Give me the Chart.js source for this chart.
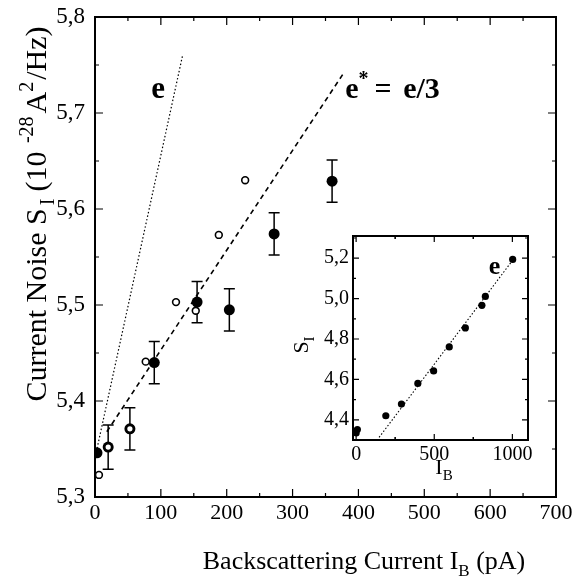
<!DOCTYPE html>
<html><head><meta charset="utf-8">
<script src="https://cdn.jsdelivr.net/npm/chart.js@4/dist/chart.umd.min.js"></script>
<style>
html,body{margin:0;padding:0;background:#fff;}
#wrap{position:relative;width:578px;height:580px;overflow:hidden;}
#main{position:absolute;left:0;top:0;}
#inset{position:absolute;left:290px;top:226px;}
</style></head><body>
<div id="wrap"><canvas id="main" width="578" height="580"></canvas><canvas id="inset" width="250" height="270"></canvas></div>
<script>
// ---- main panel data ----
const filledX   = [3, 20, 53, 90, 155, 204, 272, 360];
const filledY   = [5.346, 5.352, 5.371, 5.440, 5.503, 5.495, 5.574, 5.629];
const filledErr = [0, 0.023, 0.022, 0.022, 0.0215, 0.022, 0.022, 0.022];
const openX = [6, 20, 53, 77, 123, 153, 188, 228];
const openY = [5.323, 5.352, 5.371, 5.441, 5.503, 5.494, 5.573, 5.630];
const eLineX = [2, 133];
const eLineY = [5.347, 5.760];
const eStarLineX = [18, 376];
const eStarLineY = [5.368, 5.740];
const mainXTicks = [0, 100, 200, 300, 400, 500, 600, 700];
const mainYTicks = [5.3, 5.4, 5.5, 5.6, 5.7, 5.8];
// ---- inset data ----
const insetX = [0, 8, 190, 290, 395, 496, 596, 699, 805, 827, 1002];
const insetY = [4.335, 4.352, 4.42, 4.478, 4.58, 4.642, 4.761, 4.855, 4.967, 5.011, 5.194];
const insetLineX = [147, 992];
const insetLineY = [4.313, 5.18];
const insetXTicks = [0, 500, 1000];
const insetYTicks = [4.4, 4.6, 4.8, 5.0, 5.2];

const SERIF = '"Liberation Serif", "Times New Roman", serif';
const comma = v => Number(v).toFixed(1).replace('.', ',');
const pts = (xs, ys) => xs.map((x, i) => ({x, y: ys[i]}));

function drawRich(ctx, x, y, parts, size, bold, rot) {
  ctx.save();
  ctx.translate(x, y);
  if (rot) ctx.rotate(rot);
  ctx.fillStyle = '#000';
  ctx.textBaseline = 'alphabetic';
  const fontFor = p => (bold ? 'bold ' : '') + (p.s ? Math.round(size * 0.66) : size) + 'px ' + SERIF;
  let total = 0;
  parts.forEach(p => { ctx.font = fontFor(p); p.w = ctx.measureText(p.t).width; total += p.w + (p.gap || 0); });
  let cx = -total / 2;
  parts.forEach(p => {
    ctx.font = fontFor(p);
    let dy = 0;
    if (p.s === 'sub') dy = size * 0.28;
    if (p.s === 'sup') dy = -size * 0.42;
    ctx.fillText(p.t, cx, dy);
    cx += p.w + (p.gap || 0);
  });
  ctx.restore();
}

function frameTicks(chart, xt, yt, xMinor, yMinor, major, minor, lw) {
  const ctx = chart.ctx, a = chart.chartArea, xs = chart.scales.x, ys = chart.scales.y;
  ctx.save();
  ctx.strokeStyle = '#000';
  ctx.lineWidth = lw;
  ctx.strokeRect(a.left, a.top, a.right - a.left, a.bottom - a.top);
  ctx.lineWidth = 1.2;
  const vt = (v, len) => { const p = xs.getPixelForValue(v);
    ctx.beginPath(); ctx.moveTo(p, a.bottom); ctx.lineTo(p, a.bottom - len);
    ctx.moveTo(p, a.top); ctx.lineTo(p, a.top + len); ctx.stroke(); };
  const ht = (v, len) => { const p = ys.getPixelForValue(v);
    ctx.beginPath(); ctx.moveTo(a.left, p); ctx.lineTo(a.left + len, p);
    ctx.moveTo(a.right, p); ctx.lineTo(a.right - len, p); ctx.stroke(); };
  xt.forEach(v => vt(v, major));
  for (let i = 0; i < xt.length - 1; i++) vt((xt[i] + xt[i + 1]) / 2, minor);
  yt.forEach(v => ht(v, major));
  for (let i = 0; i < yt.length - 1; i++) ht((yt[i] + yt[i + 1]) / 2, minor);
  if (xMinor) xMinor.forEach(v => vt(v, minor));
  if (yMinor) yMinor.forEach(v => ht(v, minor));
  ctx.restore();
}

const noPad = s => { s.paddingLeft = 0; s.paddingRight = 0; s.paddingTop = 0; s.paddingBottom = 0; };

const mainPlugin = {
  id: 'mainDeco',
  beforeDatasetsDraw(chart) {
    const ctx = chart.ctx, xs = chart.scales.x, ys = chart.scales.y;
    ctx.save();
    ctx.strokeStyle = '#000';
    ctx.lineWidth = 1.5;
    filledX.forEach((x, i) => {
      const e = filledErr[i];
      if (!e) return;
      const px = xs.getPixelForValue(x);
      const t = ys.getPixelForValue(filledY[i] + e), b = ys.getPixelForValue(filledY[i] - e);
      ctx.beginPath();
      ctx.moveTo(px, t); ctx.lineTo(px, b);
      ctx.moveTo(px - 5.5, t); ctx.lineTo(px + 5.5, t);
      ctx.moveTo(px - 5.5, b); ctx.lineTo(px + 5.5, b);
      ctx.stroke();
    });
    ctx.restore();
  },
  afterDraw(chart) {
    const ctx = chart.ctx, xs = chart.scales.x, ys = chart.scales.y;
    frameTicks(chart, mainXTicks, mainYTicks, null, null, 8, 4, 2);
    drawRich(ctx, 364, 569, [{t: 'Backscattering Current I'}, {t: 'B', s: 'sub'}, {t: ' (pA)'}], 26, false, 0);
    drawRich(ctx, 46, 214, [{t: 'Current Noise S', gap: 3}, {t: 'I', s: 'sub', gap: 7}, {t: '(10 ', gap: 1}, {t: '-28', s: 'sup', gap: 3}, {t: 'A'}, {t: '2', s: 'sup', gap: 2}, {t: '/Hz)'}], 30, false, -Math.PI / 2);
    drawRich(ctx, xs.getPixelForValue(96), ys.getPixelForValue(5.716), [{t: 'e'}], 31, true, 0);
    drawRich(ctx, 392.5, 98, [{t: 'e'}, {t: '*', s: 'sup', gap: 6}, {t: '= ', gap: 4}, {t: 'e/3'}], 30, true, 0);
  }
};

new Chart(document.getElementById('main'), {
  type: 'scatter',
  data: { datasets: [
    {data: pts(eLineX, eLineY), order: 4, showLine: true, borderColor: '#000', borderWidth: 1.2, borderDash: [1.5, 2.2], pointRadius: 0},
    {data: pts(eStarLineX, eStarLineY), order: 3, showLine: true, borderColor: '#000', borderWidth: 1.6, borderDash: [5, 4], pointRadius: 0},
    {data: pts(filledX, filledY), order: 2, pointRadius: 5.5, backgroundColor: '#000', borderColor: '#000', borderWidth: 0},
    {data: pts(openX, openY), order: 1, pointRadius: 3.4, backgroundColor: '#fff', borderColor: '#000', borderWidth: 1.6}
  ]},
  options: {
    responsive: false, animation: false,
    plugins: {legend: {display: false}, tooltip: {enabled: false}},
    layout: {padding: {left: 0, top: 17, right: 22, bottom: 0}},
    scales: {
      x: {type: 'linear', min: 0, max: 700,
        afterBuildTicks: s => { s.ticks = mainXTicks.map(v => ({value: v})); },
        afterFit: s => { s.height = 83; noPad(s); },
        grid: {display: false, drawTicks: false}, border: {display: false},
        ticks: {font: {family: SERIF, size: 22}, color: '#000', padding: 3, maxRotation: 0, autoSkip: false, callback: v => String(v)}},
      y: {type: 'linear', min: 5.3, max: 5.8,
        afterBuildTicks: s => { s.ticks = mainYTicks.map(v => ({value: v})); },
        afterFit: s => { s.width = 95; noPad(s); },
        grid: {display: false, drawTicks: false}, border: {display: false},
        ticks: {font: {family: SERIF, size: 23}, color: '#000', padding: 10, callback: v => comma(v), autoSkip: false}}
    }
  },
  plugins: [mainPlugin]
});

const insetPlugin = {
  id: 'insetDeco',
  beforeDraw(chart) {
    const a = chart.chartArea, ctx = chart.ctx;
    ctx.save(); ctx.fillStyle = '#fff'; ctx.fillRect(a.left, a.top, a.right - a.left, a.bottom - a.top); ctx.restore();
  },
  afterDraw(chart) {
    const ctx = chart.ctx, xs = chart.scales.x, ys = chart.scales.y;
    frameTicks(chart, insetXTicks, insetYTicks, [250, 750], [4.3, 5.3], 6, 3, 2);
    drawRich(ctx, 18, 119, [{t: 'S'}, {t: 'I', s: 'sub'}], 22, false, -Math.PI / 2);
    drawRich(ctx, 154, 248, [{t: 'I'}, {t: 'B', s: 'sub'}], 22, false, 0);
    drawRich(ctx, xs.getPixelForValue(885), ys.getPixelForValue(5.12), [{t: 'e'}], 26, true, 0);
  }
};

new Chart(document.getElementById('inset'), {
  type: 'scatter',
  data: { datasets: [
    {data: pts(insetLineX, insetLineY), order: 2, showLine: true, borderColor: '#000', borderWidth: 1.1, borderDash: [1.5, 2], pointRadius: 0},
    {data: pts(insetX, insetY), order: 1, pointRadius: 3.6, backgroundColor: '#000', borderColor: '#000', borderWidth: 0}
  ]},
  options: {
    responsive: false, animation: false,
    plugins: {legend: {display: false}, tooltip: {enabled: false}},
    layout: {padding: {left: 0, top: 10, right: 12, bottom: 0}},
    scales: {
      x: {type: 'linear', min: -20, max: 1100,
        afterBuildTicks: s => { s.ticks = insetXTicks.map(v => ({value: v})); },
        afterFit: s => { s.height = 56; noPad(s); },
        grid: {display: false, drawTicks: false}, border: {display: false},
        ticks: {font: {family: SERIF, size: 20}, color: '#000', padding: 3, maxRotation: 0, autoSkip: false, callback: v => String(v)}},
      y: {type: 'linear', min: 4.3, max: 5.31,
        afterBuildTicks: s => { s.ticks = insetYTicks.map(v => ({value: v})); },
        afterFit: s => { s.width = 63; noPad(s); },
        grid: {display: false, drawTicks: false}, border: {display: false},
        ticks: {font: {family: SERIF, size: 20}, color: '#000', padding: 4, callback: v => comma(v), autoSkip: false}}
    }
  },
  plugins: [insetPlugin]
});
</script>
</body></html>
